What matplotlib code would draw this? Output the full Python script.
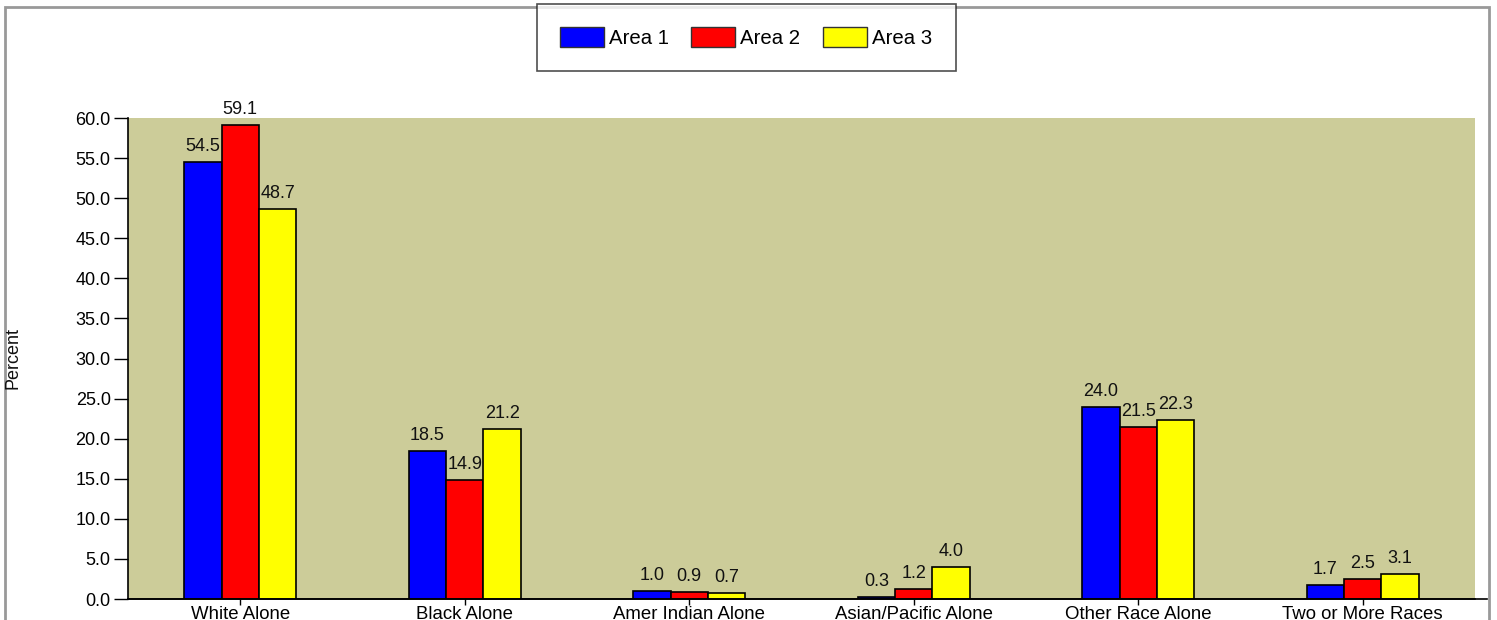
import matplotlib
matplotlib.use("Agg")
import matplotlib.pyplot as plt
import numpy as np
from matplotlib.patches import Rectangle, Patch
from matplotlib.lines import Line2D

categories = ["White Alone", "Black Alone", "Amer Indian Alone",
              "Asian/Pacific Alone", "Other Race Alone", "Two or More Races"]
series_names = ["Area 1", "Area 2", "Area 3"]
area1 = [54.5, 18.5, 1.0, 0.3, 24.0, 1.7]
area2 = [59.1, 14.9, 0.9, 1.2, 21.5, 2.5]
area3 = [48.7, 21.2, 0.7, 4.0, 22.3, 3.1]
colors = ["#0000FF", "#FF0000", "#FFFF00"]
yticks = [0, 5, 10, 15, 20, 25, 30, 35, 40, 45, 50, 55, 60]

plt.rcParams['font.family'] = ['Liberation Sans', 'DejaVu Sans']
FS = 13
W, H = 1497, 620
fig = plt.figure(figsize=(W / 100, H / 100), dpi=100)

L, R, T, B = 128, 1475, 118, 599
ax = fig.add_axes([L / W, 1 - B / H, (R - L) / W, (B - T) / H])
ax.set_facecolor("#CCCC99")

x = np.arange(len(categories))
bw = 1 / 6
for i, (vals, c) in enumerate(zip([area1, area2, area3], colors)):
    pos = x + (i - 1) * bw
    ax.bar(pos, vals, width=bw, color=c, edgecolor="black", linewidth=1.2, zorder=3)
    for px, v in zip(pos, vals):
        ax.annotate(f"{v:.1f}", (px, v), xytext=(0, 5), textcoords="offset points",
                    ha="center", va="bottom", fontsize=FS, color="#111111")

ax.set_xlim(-0.5, len(categories) - 0.5)
ax.set_ylim(0, 60)
ax.set_yticks(yticks)
ax.set_yticklabels([f"{v:.1f}" for v in yticks], fontsize=FS)
ax.set_xticks(x)
ax.set_xticklabels(categories, fontsize=13.4)
ax.tick_params(axis="y", direction="out", length=10, width=1, pad=2.5)
ax.tick_params(axis="x", direction="out", length=4, width=1, pad=1)
for s in ["top", "right"]:
    ax.spines[s].set_visible(False)
ax.spines["left"].set_linewidth(1.2)
ax.spines["bottom"].set_linewidth(1.2)

fig.text(13 / W, 1 - 358 / H, "Percent", rotation=90, ha="center", va="center",
         fontsize=FS, color="#111111")

# extend baseline past plot area
fig.add_artist(Line2D([L / W, 1487 / W], [1 - B / H, 1 - B / H],
                      transform=fig.transFigure, color="black", linewidth=1.2))

# outer gray frame
fig.add_artist(Rectangle((5 / W, -0.05), (1489 - 5) / W, 1.05 - 7 / H,
                         transform=fig.transFigure, fill=False,
                         edgecolor="#999999", linewidth=2))

LFS = 14.7
handles = [Patch(facecolor=c, edgecolor="#333333", linewidth=1) for c in colors]
leg = fig.legend(handles, series_names, loc="center",
                 bbox_to_anchor=(746 / W, 1 - 37.5 / H), ncol=3, fontsize=LFS,
                 frameon=True, fancybox=False, edgecolor="#222222",
                 handlelength=2.15, handleheight=1.1, handletextpad=0.25,
                 columnspacing=1.1, borderpad=1.15, borderaxespad=0)
leg.get_frame().set_linewidth(1.2)

fig.savefig("out.png", dpi=100, facecolor="white")
